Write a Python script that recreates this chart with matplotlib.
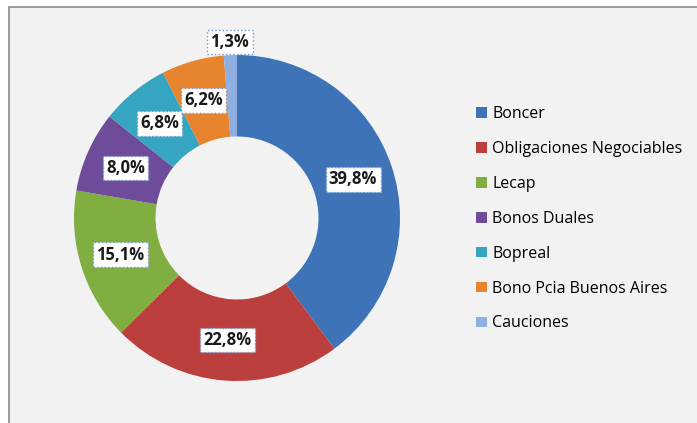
import matplotlib.pyplot as plt
import numpy as np
from matplotlib.patches import Patch

plt.rcParams['font.family'] = ['Open Sans', 'DejaVu Sans']

categorias = ['Boncer', 'Obligaciones Negociables', 'Lecap', 'Bonos Duales',
              'Bopreal', 'Bono Pcia Buenos Aires', 'Cauciones']
valores = [39.8, 22.8, 15.1, 8.0, 6.8, 6.2, 1.3]
colores = ['#3E73B8', '#BA3F3D', '#80AE40', '#6F4C99', '#36A5C1', '#E8832E', '#8FAFE0']

W, H = 697, 423
fig = plt.figure(figsize=(W / 100, H / 100), dpi=100)
fig.patch.set_facecolor('white')

# fondo del grafico con borde gris
marco = plt.Rectangle((9 / W, -0.01), 1.0, (H - 7) / H + 0.01, transform=fig.transFigure,
                      facecolor='#F2F2F2', edgecolor='#8C8C8C', linewidth=1.2, zorder=-5)
fig.patches.append(marco)

# centro (237,218) radio 163 px
cx, cy, r = 237, 218, 163
ax = fig.add_axes([(cx - r) / W, (H - cy - r) / H, 2 * r / W, 2 * r / H])
ax.set_facecolor('none')

wedges, _ = ax.pie(valores, colors=colores, startangle=90, counterclock=False,
                   radius=1.0, wedgeprops=dict(width=0.5, edgecolor='none'))
ax.set_xlim(-1, 1)
ax.set_ylim(-1, 1)
ax.set_aspect('equal')
ax.axis('off')

caja = dict(boxstyle='square,pad=0.2', facecolor='white', edgecolor='#6A9BD8',
            linestyle=':', linewidth=1.0)
for w, v in zip(wedges, valores):
    ang = np.deg2rad((w.theta1 + w.theta2) / 2)
    rr = 0.75
    if v < 2:
        rr = 1.08
    ax.text(rr * np.cos(ang), rr * np.sin(ang), f'{v:.1f}%'.replace('.', ','),
            ha='center', va='center', fontsize=12, fontweight='bold',
            color='#1A1A1A', bbox=caja, clip_on=False)

handles = [Patch(facecolor=c, edgecolor='none') for c in colores]
fig.legend(handles, categorias, loc='upper left', bbox_to_anchor=(470 / W, 1 - 100 / H),
           frameon=False, fontsize=11.5, handlelength=0.65, handleheight=0.65,
           handletextpad=0.35, labelspacing=1.18, borderaxespad=0)

fig.savefig('out.png', dpi=100)
